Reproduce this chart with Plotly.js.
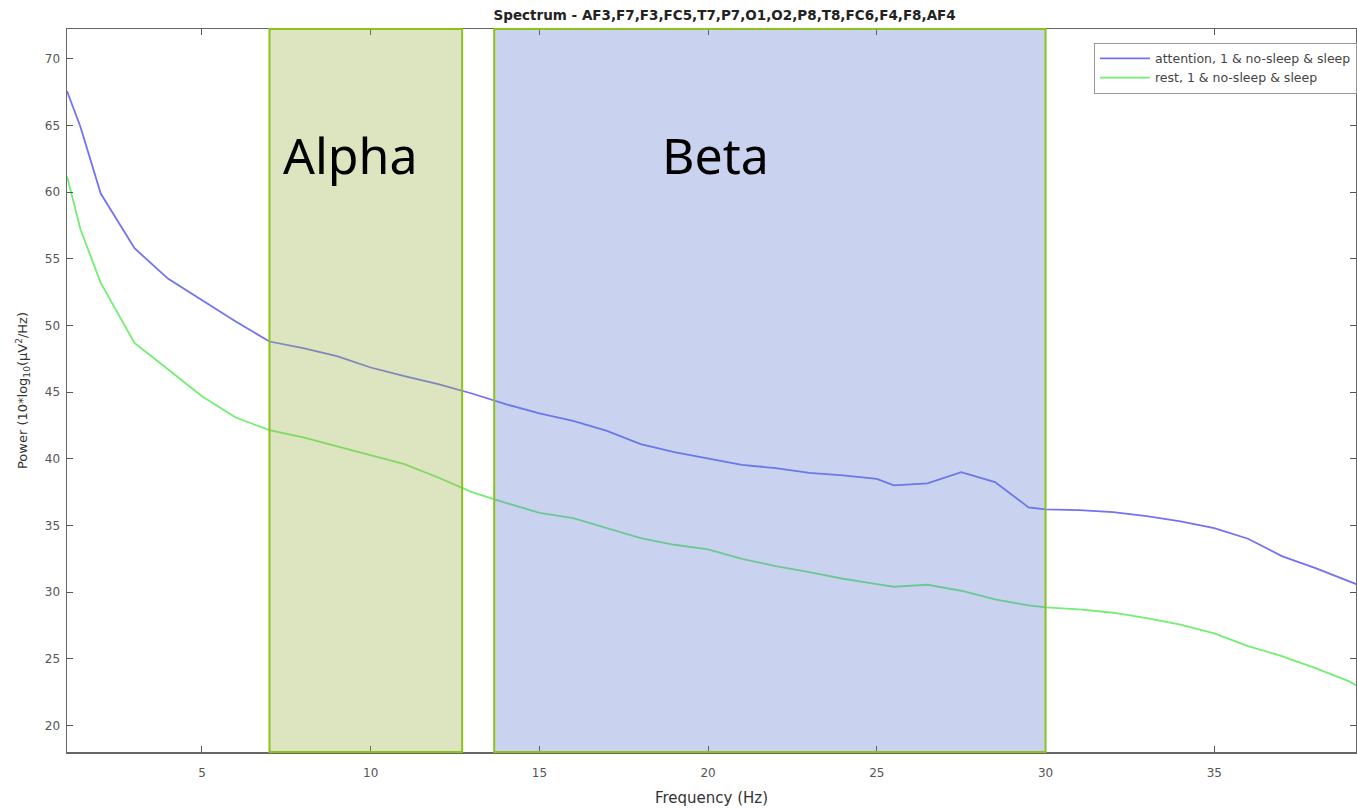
<!DOCTYPE html>
<html>
<head>
<meta charset="utf-8">
<script src="https://cdn.plot.ly/plotly-3.0.1.min.js"></script>
<style>html,body{margin:0;padding:0;background:#fff;}#chart{width:1357px;height:808px;}</style>
</head>
<body>
<div id="chart"></div>
<script>
// Frequency (Hz)
const freqs = [1, 1.4, 2, 3, 4, 5, 6, 7, 8, 9, 10, 11, 12, 13, 14, 15, 16, 17, 18, 19, 20, 21, 22, 23, 24, 25, 25.5, 26.5, 27.5, 28.5, 29.5, 30, 31, 32, 33, 34, 35, 36, 37, 38, 39, 39.35];
// attention, 1 & no-sleep & sleep
const attention = [67.6, 64.9, 59.9, 55.8, 53.5, 51.9, 50.3, 48.8, 48.3, 47.7, 46.85, 46.2, 45.6, 44.9, 44.1, 43.4, 42.85, 42.1, 41.1, 40.5, 40.0, 39.55, 39.3, 38.95, 38.75, 38.5, 38.0, 38.15, 39.0, 38.25, 36.35, 36.2, 36.15, 36.0, 35.7, 35.3, 34.8, 34.0, 32.7, 31.8, 30.8, 30.45];
// rest, 1 & no-sleep & sleep
const rest = [61.2, 57.2, 53.2, 48.7, 46.7, 44.7, 43.1, 42.15, 41.6, 40.95, 40.3, 39.6, 38.6, 37.5, 36.7, 35.95, 35.55, 34.8, 34.05, 33.55, 33.2, 32.5, 31.95, 31.5, 31.0, 30.6, 30.4, 30.55, 30.1, 29.45, 29.0, 28.85, 28.7, 28.45, 28.05, 27.55, 26.9, 25.95, 25.2, 24.3, 23.3, 22.8];
const seriesNames = ["attention, 1 & no-sleep & sleep", "rest, 1 & no-sleep & sleep"];
// Bands
const bandNames = ["Alpha", "Beta"];
const bandStart = [7.0, 13.66];
const bandEnd = [12.71, 30.0];
const bandLabelX = [9.39, 20.23];
const bandLabelY = 62.8;
const xTicks = [5, 10, 15, 20, 25, 30, 35];
const yTicks = [20, 25, 30, 35, 40, 45, 50, 55, 60, 65, 70];

const bandFill = ["rgba(158,178,75,0.35)", "rgba(101,129,212,0.35)"];

const traces = [
  {x: freqs, y: attention, type: 'scatter', mode: 'lines', name: seriesNames[0],
   line: {color: '#7272f2', width: 1.8}},
  {x: freqs, y: rest, type: 'scatter', mode: 'lines', name: seriesNames[1],
   line: {color: '#72ee72', width: 1.8}}
];

const shapes = bandNames.map((b, i) => ({
  type: 'rect', xref: 'x', yref: 'paper', x0: bandStart[i], x1: bandEnd[i], y0: 0, y1: 1,
  fillcolor: bandFill[i], line: {color: '#8cc21a', width: 2}, layer: 'above'
}));

const annotations = bandNames.map((b, i) => ({
  x: bandLabelX[i], y: bandLabelY, xref: 'x', yref: 'y', text: b, showarrow: false,
  font: {family: 'Noto Sans', size: 50, color: '#000'}
}));

const tickFont = {family: 'DejaVu Sans, Liberation Sans', size: 12, color: '#555'};

const layout = {
  width: 1357, height: 808,
  margin: {l: 67, r: 0, t: 29, b: 56, pad: 0},
  paper_bgcolor: '#fff', plot_bgcolor: '#fff',
  title: {text: '<b>Spectrum - AF3,F7,F3,FC5,T7,P7,O1,O2,P8,T8,FC6,F4,F8,AF4</b>',
          font: {family: 'DejaVu Sans, Liberation Sans', size: 13.5, color: '#222'},
          x: 0.534, xanchor: 'center', y: 0.981, yanchor: 'middle'},
  xaxis: {range: [1, 39.2], tickvals: xTicks, ticks: 'inside', ticklen: 6, tickcolor: '#555',
          showline: true, linecolor: '#666', linewidth: 1.5, mirror: 'ticks', showgrid: false, zeroline: false,
          tickfont: tickFont, ticklabelstandoff: 9,
          title: {text: 'Frequency (Hz)', font: {family: 'DejaVu Sans, Liberation Sans', size: 15, color: '#333'}, standoff: 13}},
  yaxis: {range: [18, 72.25], tickvals: yTicks, ticks: 'inside', ticklen: 6, tickcolor: '#555',
          showline: true, linecolor: '#666', linewidth: 1.5, mirror: 'ticks', showgrid: false, zeroline: false,
          tickfont: tickFont, ticklabelstandoff: 3,
          title: {text: 'Power (10*log<sub>10</sub>(μV<sup>2</sup>/Hz)', font: {family: 'DejaVu Sans, Liberation Sans', size: 13, color: '#333'}, standoff: 14}},
  showlegend: true,
  legend: {x: 1.001, xanchor: 'right', y: 0.981, yanchor: 'top', bgcolor: '#fff',
           bordercolor: '#999', borderwidth: 1, itemwidth: 50,
           font: {family: 'DejaVu Sans, Liberation Sans', size: 12.5, color: '#444'},
           tracegroupgap: 0},
  shapes: shapes,
  annotations: annotations
};

Plotly.newPlot('chart', traces, layout, {displayModeBar: false, staticPlot: true});
</script>
</body>
</html>
